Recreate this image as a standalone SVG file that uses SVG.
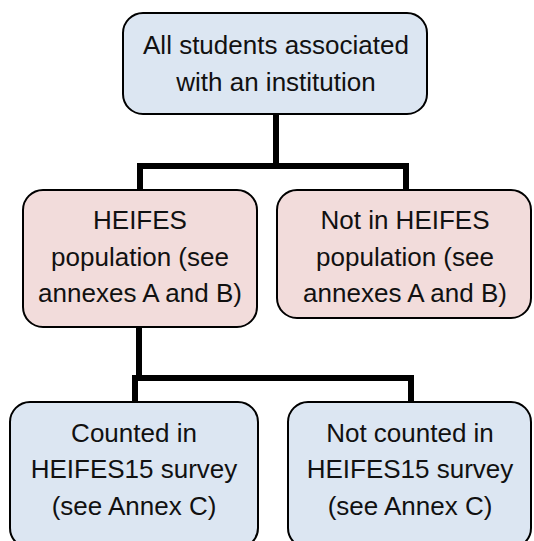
<svg xmlns="http://www.w3.org/2000/svg" width="534" height="541" viewBox="0 0 534 541">
  <style>
    .box { stroke: #000; stroke-width: 2; }
    .blue { fill: #dce6f2; }
    .pink { fill: #f2dcdb; }
    .label { font-family: "Liberation Sans", Arial, sans-serif; font-size: 26px; fill: #111; text-anchor: middle; }
    .wire { fill: none; stroke: #000; stroke-width: 6; stroke-linejoin: miter; stroke-linecap: butt; }
  </style>
  <rect width="534" height="541" fill="#fff"/>

  <!-- tree connectors -->
  <g id="connectors">
    <path class="wire" d="M276 114 V166"/>
    <path class="wire" d="M140 190 V166 H406 V190"/>
    <path class="wire" d="M139 327 V378"/>
    <path class="wire" d="M135 402 V378 H411 V402"/>
  </g>

  <g id="all-students">
    <rect class="box blue" x="123" y="13" width="304" height="101" rx="20" ry="20"/>
    <text class="label" x="276" y="54">All students associated</text>
    <text class="label" x="276" y="91">with an institution</text>
  </g>

  <g id="heifes-population">
    <rect class="box pink" x="23" y="190" width="234" height="137" rx="20" ry="20"/>
    <text class="label" x="140" y="229">HEIFES</text>
    <text class="label" x="140" y="266">population (see</text>
    <text class="label" x="140" y="302">annexes A and B)</text>
  </g>

  <g id="not-heifes-population">
    <rect class="box pink" x="277" y="190" width="254" height="128" rx="20" ry="20"/>
    <text class="label" x="405" y="229">Not in HEIFES</text>
    <text class="label" x="405" y="266">population (see</text>
    <text class="label" x="405" y="302">annexes A and B)</text>
  </g>

  <g id="counted">
    <rect class="box blue" x="10" y="402" width="248" height="146" rx="20" ry="20"/>
    <text class="label" x="134" y="442">Counted in</text>
    <text class="label" x="134" y="478">HEIFES15 survey</text>
    <text class="label" x="134" y="515">(see Annex C)</text>
  </g>

  <g id="not-counted">
    <rect class="box blue" x="288" y="402" width="243" height="146" rx="20" ry="20"/>
    <text class="label" x="410" y="442">Not counted in</text>
    <text class="label" x="410" y="478">HEIFES15 survey</text>
    <text class="label" x="410" y="515">(see Annex C)</text>
  </g>
</svg>
